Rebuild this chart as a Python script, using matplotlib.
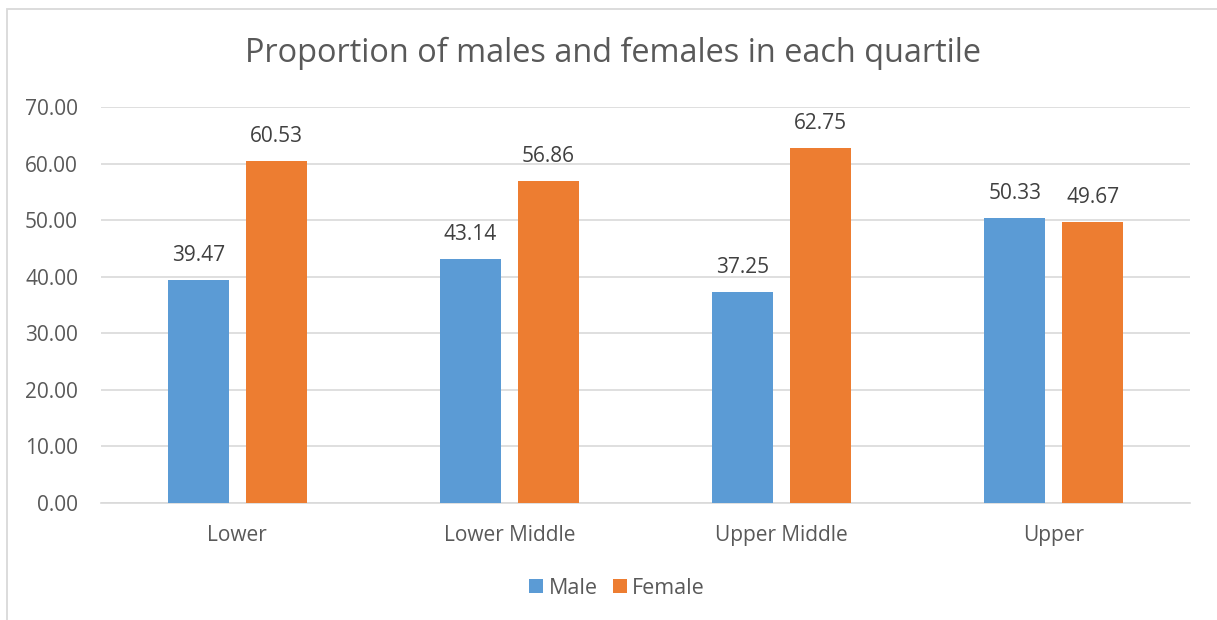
import matplotlib
matplotlib.use("Agg")
import matplotlib.pyplot as plt
import numpy as np
from matplotlib.patches import Rectangle

categories = ["Lower", "Lower Middle", "Upper Middle", "Upper"]
male = [39.47, 43.14, 37.25, 50.33]
female = [60.53, 56.86, 62.75, 49.67]
yticks = [0, 10, 20, 30, 40, 50, 60, 70]
title = "Proportion of males and females in each quartile"

plt.rcParams['font.family'] = ['Open Sans', 'DejaVu Sans']
W, H = 1217, 620
fig = plt.figure(figsize=(W/100, H/100), dpi=100)

# outer border (only left/top visible in reference)
fig.add_artist(Rectangle((7/W, -0.05), 1.2, (620-8.5)/H + 0.05, transform=fig.transFigure,
                         fill=False, edgecolor="#d9d9d9", linewidth=1.3))

ax = fig.add_axes([101/W, (620-503)/H, 1089/W, (503-107)/H])
x = np.arange(len(categories))
bw = 0.224
off = 0.143
mcol = "#5B9BD5"
fcol = "#ED7D31"
b1 = ax.bar(x - off, male, bw, color=mcol, label="Male", zorder=3)
b2 = ax.bar(x + off, female, bw, color=fcol, label="Female", zorder=3)

for bars, vals in ((b1, male), (b2, female)):
    for b, v in zip(bars, vals):
        ax.annotate(f"{v:.2f}", (b.get_x() + b.get_width()/2, v), xytext=(0, 19),
                    textcoords="offset pixels", ha="center", va="baseline",
                    fontsize=15, color="#404040")

ax.set_xlim(-0.5, 3.5)
ax.set_ylim(0, 70)
ax.set_yticks(yticks)
ax.set_yticklabels([f"{t:.2f}" for t in yticks])
ax.set_xticks(x)
ax.set_xticklabels(categories)
ax.tick_params(axis='both', length=0, labelsize=15, labelcolor="#595959")
ax.tick_params(axis='y', pad=16.5)
ax.tick_params(axis='x', pad=16)
ax.grid(axis='y', color="#d9d9d9", linewidth=1.2, zorder=0)
for s in ["top", "right", "left"]:
    ax.spines[s].set_visible(False)
ax.spines["bottom"].set_color("#d9d9d9")
ax.spines["bottom"].set_linewidth(1.2)

fig.text(613/W, 1 - 53/H, title, ha="center", va="center", fontsize=23.4, color="#595959")

leg = fig.legend(handles=[b1, b2], loc="center", bbox_to_anchor=(617/W, 1 - 588/H),
                 ncol=2, frameon=False, fontsize=15.5, handlelength=0.65, handleheight=0.65,
                 handletextpad=0.25, columnspacing=0.7)
for t in leg.get_texts():
    t.set_color("#595959")

fig.savefig("out.png", dpi=100)
